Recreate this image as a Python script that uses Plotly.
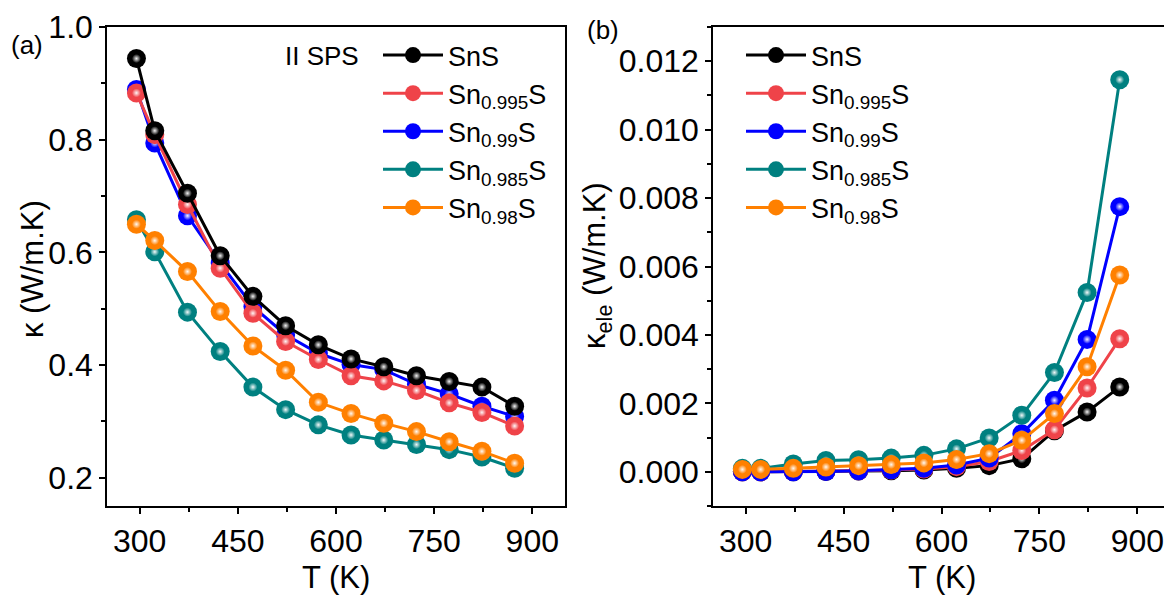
import plotly.graph_objects as go

# The page body has an 8 px margin, so the figure is laid out 8 px smaller
OFF = 8
W, H = 1172 - OFF, 596 - OFF

# ---------------- data ----------------
T = [295, 323, 373, 423, 473, 523, 573, 623, 673, 723, 773, 823, 873]

names = ["SnS", "Sn<sub>0.995</sub>S", "Sn<sub>0.99</sub>S", "Sn<sub>0.985</sub>S", "Sn<sub>0.98</sub>S"]
colors = ["#000000", "#EF4349", "#0000FF", "#008080", "#FF8000"]

kappa_SnS   = [0.944, 0.816, 0.705, 0.594, 0.522, 0.470, 0.436, 0.411, 0.397, 0.381, 0.371, 0.361, 0.327]
kappa_0995  = [0.883, 0.809, 0.685, 0.572, 0.492, 0.442, 0.410, 0.381, 0.372, 0.355, 0.333, 0.316, 0.292]
kappa_099   = [0.889, 0.794, 0.665, 0.581, 0.504, 0.454, 0.421, 0.401, 0.392, 0.366, 0.349, 0.327, 0.309]
kappa_0985  = [0.658, 0.601, 0.494, 0.424, 0.361, 0.321, 0.294, 0.276, 0.267, 0.259, 0.250, 0.237, 0.217]
kappa_098   = [0.650, 0.621, 0.566, 0.495, 0.434, 0.391, 0.334, 0.314, 0.297, 0.282, 0.264, 0.247, 0.226]

kele_SnS  = [0.0, 0.0, 0.0, 0.00001, 0.00002, 0.00003, 0.00005, 0.0001, 0.00018, 0.00038, 0.0012, 0.00175, 0.00248]
kele_0995 = [0.0, 0.0, 0.00001, 0.00002, 0.00003, 0.00005, 0.00008, 0.00015, 0.0003, 0.00062, 0.00123, 0.00245, 0.00389]
kele_099  = [0.0, 0.0, 0.0, 0.00001, 0.00003, 0.00006, 0.0001, 0.0002, 0.0004, 0.00111, 0.00209, 0.00387, 0.00775]
kele_0985 = [0.0001, 0.0001, 0.00023, 0.00033, 0.00035, 0.0004, 0.00048, 0.00067, 0.00099, 0.00165, 0.0029, 0.00524, 0.01146]
kele_098  = [0.00007, 0.00007, 0.0001, 0.00014, 0.00018, 0.00021, 0.00026, 0.00036, 0.00053, 0.00092, 0.0017, 0.00307, 0.00575]

kappa = [kappa_SnS, kappa_0995, kappa_099, kappa_0985, kappa_098]
kele = [kele_SnS, kele_0995, kele_099, kele_0985, kele_098]

FONT = "Liberation Sans, Arial, sans-serif"


def px_x(p):
    # p: pixel in the 1172x596 screenshot
    return (p - OFF) / W


def px_y(p):
    return 1 - (p - OFF) / H


fig = go.Figure()


def add_series(i, yvals, xa, ya, legend):
    fig.add_trace(go.Scatter(
        x=T, y=yvals, mode="lines+markers", name=names[i],
        xaxis=xa, yaxis=ya, legend=legend, legendrank=i + 1,
        line=dict(color=colors[i], width=3),
        marker=dict(size=19, color=colors[i], line=dict(width=0),
                    gradient=dict(type="radial", color=colors[i])),
    ))
    # specular highlight on each sphere
    fig.add_trace(go.Scatter(
        x=T, y=yvals, mode="markers", showlegend=False, hoverinfo="skip",
        xaxis=xa, yaxis=ya,
        marker=dict(size=9, color="rgba(255,255,255,0)", line=dict(width=0),
                    gradient=dict(type="radial", color="rgba(255,255,255,0.95)")),
    ))


# left panel draw order
for i in [2, 1, 3, 4, 0]:
    add_series(i, kappa[i], "x", "y", "legend")
# right panel draw order
for i in [0, 1, 2, 3, 4]:
    add_series(i, kele[i], "x2", "y2", "legend2")

axis_common = dict(
    showline=True, mirror=True, linecolor="black", linewidth=1.5,
    ticks="outside", ticklen=6, tickwidth=1.5, tickcolor="black",
    showgrid=False, zeroline=False,
    tickfont=dict(family=FONT, size=32, color="black"),
    automargin=False,
)

ydom = [px_y(506), px_y(27)]

fig.update_layout(
    width=W, height=H,
    margin=dict(l=0, r=0, t=0, b=0),
    paper_bgcolor="white", plot_bgcolor="white",
    font=dict(family=FONT, color="black"),
    xaxis=dict(domain=[px_x(107), px_x(565)], range=[250, 950], tick0=0, dtick=150,
               minor=dict(ticks="outside", ticklen=4, dtick=75, tickcolor="black", tickwidth=1.5),
               anchor="y", **axis_common),
    yaxis=dict(domain=ydom, range=[0.15, 1.0], tick0=0, dtick=0.2, tickformat=".1f",
               minor=dict(ticks="outside", ticklen=4, dtick=0.1, tickcolor="black", tickwidth=1.5),
               anchor="x", **axis_common),
    xaxis2=dict(domain=[px_x(713), px_x(1170)], range=[250, 950], tick0=0, dtick=150,
                minor=dict(ticks="outside", ticklen=4, dtick=75, tickcolor="black", tickwidth=1.5),
                anchor="y2", **axis_common),
    yaxis2=dict(domain=ydom, range=[-0.001, 0.013], tick0=0, dtick=0.002, tickformat=".3f",
                minor=dict(ticks="outside", ticklen=4, dtick=0.001, tickcolor="black", tickwidth=1.5),
                anchor="x2", **axis_common),
    legend=dict(x=px_x(378), y=px_y(31), xanchor="left", yanchor="top",
                bgcolor="rgba(0,0,0,0)", itemwidth=60,
                font=dict(family=FONT, size=27, color="black"), tracegroupgap=0),
    legend2=dict(x=px_x(741), y=px_y(31), xanchor="left", yanchor="top",
                 bgcolor="rgba(0,0,0,0)", itemwidth=60,
                 font=dict(family=FONT, size=27, color="black"), tracegroupgap=0),
    showlegend=True,
)

annos = [
    dict(text="(a)", x=px_x(27), y=px_y(45), size=26),
    dict(text="(b)", x=px_x(603), y=px_y(30), size=26),
    dict(text="II SPS", x=px_x(322), y=px_y(56), size=26),
    dict(text="T (K)", x=px_x(336), y=px_y(577), size=31),
    dict(text="T (K)", x=px_x(942), y=px_y(577), size=31),
    dict(text="κ (W/m.K)", x=px_x(32), y=px_y(269), size=31, angle=-90),
    dict(text="κ<sub>ele</sub> (W/m.K)", x=px_x(597), y=px_y(266), size=31, angle=-90),
]
for a in annos:
    fig.add_annotation(xref="paper", yref="paper", showarrow=False,
                       xanchor="center", yanchor="middle",
                       font=dict(family=FONT, color="black", size=a["size"]),
                       text=a["text"], x=a["x"], y=a["y"],
                       textangle=a.get("angle", 0))

fig.write_html("out.html")
